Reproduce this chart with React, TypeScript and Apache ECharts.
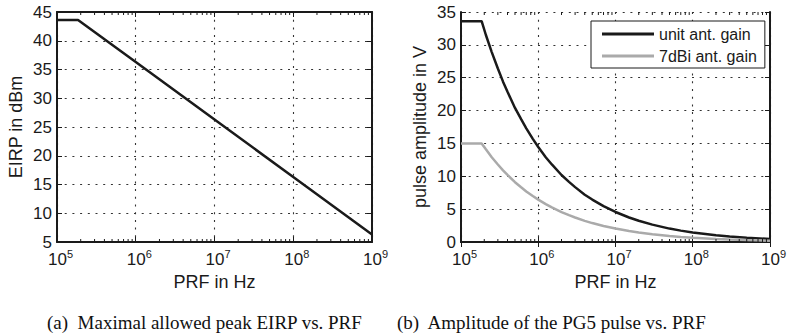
import React, { useEffect, useRef } from "react";
import * as echarts from "echarts";

// ---- data ----
const prfLeft = [1e5, 1.85e5, 1e6, 1e7, 1e8, 1e9];
const eirpDbm = [43.6, 43.6, 36.3, 26.3, 16.3, 6.3];

const prfRight = [1e5, 1.85e5, 2.1e5, 2.5e5, 3e5, 3.5e5, 4e5, 5e5, 6e5, 7e5, 8.5e5, 1e6, 1.25e6, 1.5e6, 2e6, 2.5e6, 3e6, 4e6, 5e6, 7e6, 1e7, 1.5e7, 2e7, 3e7, 5e7, 7e7, 1e8, 2e8, 3e8, 5e8, 1e9];
const unitGainV = [33.6, 33.6, 31.5, 28.9, 26.4, 24.4, 22.85, 20.4, 18.7, 17.3, 15.7, 14.45, 12.9, 11.8, 10.2, 9.15, 8.35, 7.2, 6.46, 5.46, 4.57, 3.73, 3.23, 2.64, 2.04, 1.73, 1.45, 1.02, 0.84, 0.65, 0.46];
const gain7dBiV = [15, 15, 14.1, 12.9, 11.8, 10.9, 10.2, 9.1, 8.33, 7.7, 7.0, 6.45, 5.77, 5.27, 4.56, 4.08, 3.73, 3.22, 2.88, 2.44, 2.04, 1.67, 1.44, 1.18, 0.91, 0.77, 0.65, 0.46, 0.37, 0.29, 0.2];

const seriesNames = ["unit ant. gain", "7dBi ant. gain"];
const xAxisTitle = "PRF in Hz";
const yTitleLeft = "EIRP in dBm";
const yTitleRight = "pulse amplitude in V";
const captionA = "(a)  Maximal allowed peak EIRP vs. PRF";
const captionB = "(b)  Amplitude of the PG5 pulse vs. PRF";

const xMin = 1e5;
const xMax = 1e9;
const leftYMin = 5, leftYMax = 45, leftYStep = 5;
const rightYMin = 0, rightYMax = 35, rightYStep = 5;
const minorDecades = [1e5, 1e6, 1e7, 1e8];
const minorMultipliers = [2, 3, 4, 5, 6, 7, 8, 9];
const minorTicks = minorDecades.flatMap((d) => minorMultipliers.map((m) => [d * m]));

const FONT = "Liberation Sans, Arial, sans-serif";
const SERIF = "19px 'Liberation Serif', 'Times New Roman', serif";
const INK = "#1a1a1a";
const GRIDC = "#333";

function pairs(xs: number[], ys: number[]) {
  return xs.map((x, i) => [x, ys[i]]);
}

const gridLineStyle = () => ({ show: true, lineStyle: { color: GRIDC, width: 1.1, type: [2, 5.7] } });

function buildAxes(gridIndex: number, yMin: number, yMax: number, yStep: number, yName: string, nameGap: number) {
  const xAxes = [
    {
      type: "log", gridIndex, min: xMin, max: xMax, logBase: 10,
      name: xAxisTitle, nameLocation: "middle", nameGap: 30,
      nameTextStyle: { fontFamily: FONT, fontSize: 18, color: INK },
      axisLine: { show: true, lineStyle: { color: INK, width: 2 } },
      axisTick: { show: true, inside: true, length: 5, lineStyle: { color: INK, width: 1 } },
      splitLine: gridLineStyle(),
      axisLabel: {
        margin: 6,
        formatter: (v: number) => `{p|}{b|10}{s|${Math.round(Math.log10(v))}}`,
        rich: {
          p: { width: 7, fontSize: 11, lineHeight: 20, verticalAlign: "top" },
          b: { fontFamily: FONT, fontSize: 17, color: INK, lineHeight: 20, verticalAlign: "bottom" },
          s: { fontFamily: FONT, fontSize: 11, color: INK, lineHeight: 20, verticalAlign: "top" },
        },
      },
    },
    {
      type: "log", gridIndex, min: xMin, max: xMax, logBase: 10, position: "top",
      axisLine: { show: true, lineStyle: { color: INK, width: 2 } },
      axisTick: { show: true, inside: true, length: 5, lineStyle: { color: INK, width: 1 } },
      axisLabel: { show: false }, splitLine: { show: false },
    },
  ];
  const yAxes = [
    {
      type: "value", gridIndex, min: yMin, max: yMax, interval: yStep,
      name: yName, nameLocation: "middle", nameGap, nameRotate: 90,
      nameTextStyle: { fontFamily: FONT, fontSize: 18, color: INK },
      axisLine: { show: true, lineStyle: { color: INK, width: 2 } },
      axisTick: { show: true, inside: true, length: 5, lineStyle: { color: INK, width: 1 } },
      splitLine: gridLineStyle(),
      axisLabel: { fontFamily: FONT, fontSize: 17, color: INK, margin: 5 },
    },
    {
      type: "value", gridIndex, min: yMin, max: yMax, interval: yStep, position: "right",
      axisLine: { show: true, lineStyle: { color: INK, width: 2 } },
      axisTick: { show: true, inside: true, length: 5, lineStyle: { color: INK, width: 1 } },
      axisLabel: { show: false }, splitLine: { show: false },
    },
  ];
  return { xAxes, yAxes };
}

function minorTickSeries(xAxisIndex: number, yAxisIndex: number) {
  return {
    type: "custom", xAxisIndex, yAxisIndex, silent: true, z: 5,
    data: minorTicks,
    renderItem: (params: any, api: any) => {
      const cs = params.coordSys;
      const x = api.coord([api.value(0), 1])[0];
      return {
        type: "group",
        children: [
          { type: "line", shape: { x1: x, y1: cs.y + cs.height, x2: x, y2: cs.y + cs.height - 3 }, style: { stroke: INK, lineWidth: 1 } },
          { type: "line", shape: { x1: x, y1: cs.y, x2: x, y2: cs.y + 3 }, style: { stroke: INK, lineWidth: 1 } },
        ],
      };
    },
  };
}

export default function App() {
  const ref = useRef<HTMLDivElement>(null);
  useEffect(() => {
    if (!ref.current) return;
    const chart = echarts.init(ref.current, undefined, { renderer: "svg" });
    const L = buildAxes(0, leftYMin, leftYMax, leftYStep, yTitleLeft, 32);
    const R = buildAxes(1, rightYMin, rightYMax, rightYStep, yTitleRight, 32);
    chart.setOption({
      animation: false,
      backgroundColor: "#fff",
      textStyle: { fontFamily: FONT },
      grid: [
        { left: 57, top: 12, width: 315, height: 230 },
        { left: 461, top: 12, width: 315, height: 230 },
      ],
      xAxis: [...L.xAxes, ...R.xAxes],
      yAxis: [...L.yAxes, ...R.yAxes],
      legend: {
        orient: "vertical", left: 591, top: 21,
        data: seriesNames.map((name) => ({ name, icon: "rect" })),
        itemWidth: 52, itemHeight: 3, itemGap: 6,
        padding: [5, 8, 4, 11],
        backgroundColor: "#fff", borderColor: INK, borderWidth: 1,
        textStyle: { fontFamily: FONT, fontSize: 16, color: INK, lineHeight: 16 },
      },
      series: [
        { type: "line", name: "eirp", xAxisIndex: 0, yAxisIndex: 0, data: pairs(prfLeft, eirpDbm), showSymbol: false, symbol: "none", lineStyle: { color: INK, width: 2.5 }, z: 3 },
        minorTickSeries(0, 0),
        { type: "line", name: seriesNames[0], xAxisIndex: 2, yAxisIndex: 2, data: pairs(prfRight, unitGainV), showSymbol: false, symbol: "none", color: INK, lineStyle: { color: INK, width: 2.5 }, z: 3 },
        { type: "line", name: seriesNames[1], xAxisIndex: 2, yAxisIndex: 2, data: pairs(prfRight, gain7dBiV), showSymbol: false, symbol: "none", color: "#aaaaaa", lineStyle: { color: "#aaaaaa", width: 2.5 }, z: 3 },
        minorTickSeries(2, 2),
      ],
      graphic: [
        { type: "text", left: 47, top: 313, style: { text: captionA, font: SERIF, fill: "#111" } },
        { type: "text", left: 397, top: 313, style: { text: captionB, font: SERIF, fill: "#111" } },
      ],
    });
    return () => chart.dispose();
  }, []);
  return <div ref={ref} style={{ position: "fixed", left: 0, top: 0, width: 789, height: 336 }} />;
}
